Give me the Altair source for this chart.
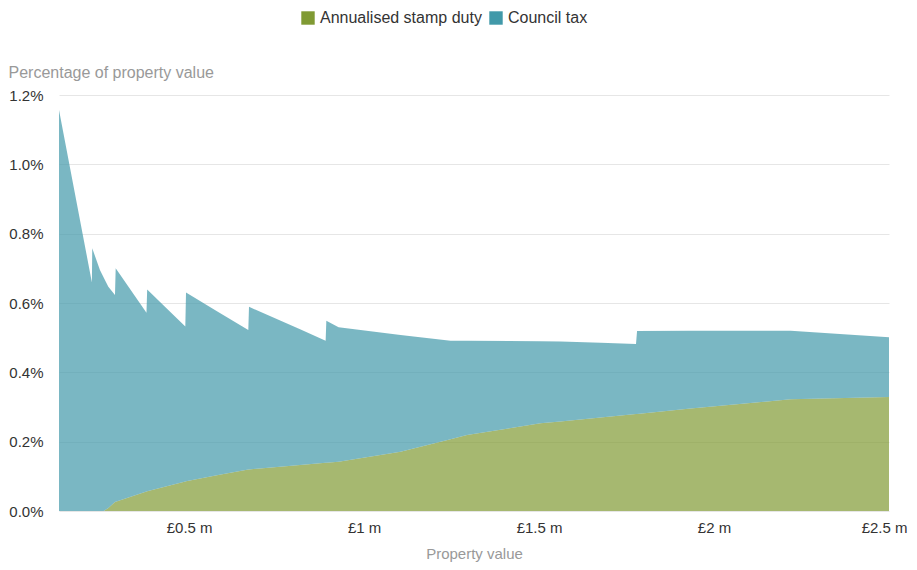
import altair as alt
import pandas as pd

# Property value in £ millions
property_value = [0.128, 0.222, 0.223, 0.245, 0.256, 0.269, 0.288, 0.290, 0.378, 0.380,
                  0.489, 0.491, 0.583, 0.669, 0.671, 0.817, 0.890, 0.892, 0.927, 1.104,
                  1.247, 1.294, 1.504, 1.561, 1.676, 1.777, 1.780, 1.933, 2.219, 2.500]
# Percentage of property value
stamp_duty = [0, 0, 0, 0, 0, 0.009, 0.026, 0.027, 0.056, 0.057,
              0.085, 0.086, 0.104, 0.120, 0.120, 0.133, 0.139, 0.139, 0.142, 0.171,
              0.207, 0.219, 0.253, 0.258, 0.270, 0.280, 0.280, 0.296, 0.322, 0.329]
council_tax = [1.157, 0.659, 0.758, 0.695, 0.673, 0.638, 0.597, 0.673, 0.516, 0.582,
               0.447, 0.544, 0.470, 0.402, 0.469, 0.391, 0.352, 0.410, 0.388, 0.337,
               0.284, 0.272, 0.237, 0.231, 0.215, 0.202, 0.239, 0.224, 0.198, 0.172]

series_names = ["Annualised stamp duty", "Council tax"]
series_colors = ["#809a33", "#4199a9"]
x_ticks = [0.5, 1, 1.5, 2, 2.5]
y_ticks = [0, 0.2, 0.4, 0.6, 0.8, 1.0, 1.2]

rows = []
for pv, s, c in zip(property_value, stamp_duty, council_tax):
    rows.append({"value": pv, "pct": s, "series": series_names[0], "ord": 0})
    rows.append({"value": pv, "pct": c, "series": series_names[1], "ord": 1})
df = pd.DataFrame(rows)

chart = alt.Chart(df).mark_area(opacity=0.7).encode(
    x=alt.X("value:Q",
            scale=alt.Scale(domain=[0.128, 2.5], nice=False, zero=False),
            axis=alt.Axis(values=x_ticks, labelExpr="'£' + datum.value + ' m'",
                          title="Property value", grid=False, ticks=False, tickSize=0,
                          domain=False, labelFontSize=15, labelColor="#333333",
                          labelFlush=True, labelFlushOffset=18,
                          titleColor="#999999", titleFontWeight="normal", titleFontSize=15,
                          labelPadding=9, titlePadding=11)),
    y=alt.Y("pct:Q", stack="zero",
            scale=alt.Scale(domain=[0, 1.2], nice=False),
            axis=alt.Axis(values=y_ticks, labelExpr="format(datum.value, '.1f') + '%'",
                          title="Percentage of property value", titleAngle=0,
                          titleAlign="left", titleBaseline="middle", titleX=-51, titleY=-23,
                          titleColor="#999999", titleFontWeight="normal", titleFontSize=16,
                          grid=True, gridColor="#e6e6e6", domain=False, ticks=False,
                          tickSize=0, labelFontSize=15, labelColor="#333333",
                          labelPadding=16)),
    color=alt.Color("series:N",
                    scale=alt.Scale(domain=series_names, range=series_colors),
                    legend=alt.Legend(title=None, orient="none", direction="horizontal",
                                      legendX=241, legendY=-85, symbolType="square",
                                      symbolSize=180, symbolOpacity=1, symbolStrokeWidth=0,
                                      labelFontSize=16, labelColor="#333333", labelLimit=0,
                                      columnPadding=6, labelOffset=4)),
    order=alt.Order("ord:Q"),
).properties(
    width=830, height=416,
    autosize=alt.AutoSizeParams(type="none"),
    padding={"left": 51, "top": 87, "right": 20, "bottom": 51},
).configure(
    font="Liberation Sans"
).configure_view(stroke=None)

chart.save("out.html", embed_options={"renderer": "svg", "actions": False})
